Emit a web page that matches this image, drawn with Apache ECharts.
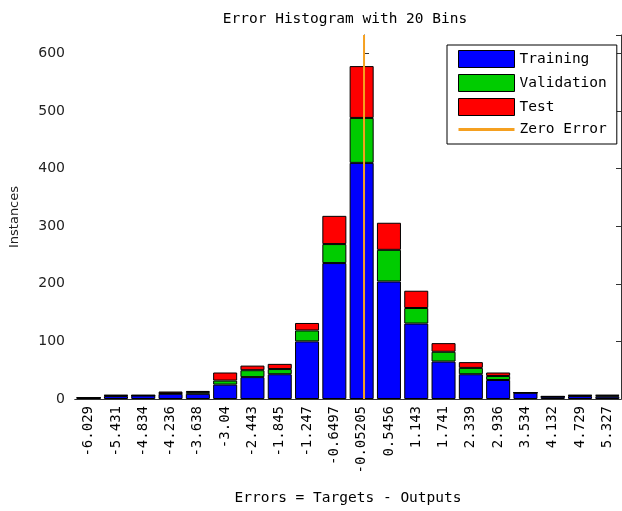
<!DOCTYPE html>
<html>
<head>
<meta charset="utf-8">
<script src="https://cdn.jsdelivr.net/npm/echarts@6/dist/echarts.min.js"></script>
<style>
  html, body { margin: 0; padding: 0; background: #fff; }
  #chart { width: 622px; height: 511px; }
</style>
</head>
<body>
<div id="chart"></div>
<script>
// bin centres (x tick labels)
var binCenters = ['-6.029', '-5.431', '-4.834', '-4.236', '-3.638', '-3.04', '-2.443', '-1.845', '-1.247', '-0.6497',
  '-0.05205', '0.5456', '1.143', '1.741', '2.339', '2.936', '3.534', '4.132', '4.729', '5.327']
// instances per bin
var training = [2, 5, 6, 9, 9, 25, 38, 43, 100, 236, 410, 204, 131, 65, 43, 33, 11, 4, 5, 4]
var validation = [0, 1, 0, 1, 3, 7, 12, 9, 19, 33, 78, 55, 27, 17, 11, 7, 0, 0, 1, 2]
var test = [0, 1, 1, 3, 2, 14, 8, 9, 13, 49, 90, 47, 30, 15, 10, 6, 0, 1, 1, 1]
var zeroError = 0
var yMax = 632

var first = parseFloat(binCenters[0])
var last = parseFloat(binCenters[binCenters.length - 1])
var binWidth = (last - first) / (binCenters.length - 1)

var mono = 'DejaVu Sans Mono'
var sans = 'DejaVu Sans'
var orange = '#f5a020'

var chart = echarts.init(document.getElementById('chart'))

var barStyle = function (color) {
  return { color: color, borderColor: '#000', borderWidth: 1 }
}

var option = {
  animation: false,
  backgroundColor: '#fff',
  title: {
    text: 'Error Histogram with 20 Bins',
    left: 345,
    top: 12,
    padding: 0,
    textAlign: 'center',
    textStyle: { fontFamily: mono, fontSize: 14.5, fontWeight: 'normal', color: '#000' }
  },
  legend: {
    orient: 'vertical',
    left: 447,
    top: 45,
    padding: [5, 10, 7, 11],
    itemGap: 6,
    itemWidth: 56,
    itemHeight: 17,
    backgroundColor: '#fff',
    borderColor: '#000',
    borderWidth: 1,
    borderRadius: 0,
    textStyle: { fontFamily: mono, fontSize: 14.5, color: '#000' },
    data: [
      { name: 'Training', icon: 'rect', itemStyle: barStyle('#0000ff') },
      { name: 'Validation', icon: 'rect', itemStyle: barStyle('#00cc00') },
      { name: 'Test', icon: 'rect', itemStyle: barStyle('#ff0000') },
      { name: 'Zero Error', icon: 'path://M0,0 H56 V3 H0 Z', itemStyle: { color: orange, borderWidth: 0 } }
    ]
  },
  grid: { left: 68, right: 1, top: 35, bottom: 98, containLabel: false },
  xAxis: [
    {
      type: 'category',
      data: binCenters,
      position: 'bottom',
      name: 'Errors = Targets - Outputs',
      nameLocation: 'middle',
      nameGap: 92,
      nameTextStyle: { fontFamily: mono, fontSize: 14.5, color: '#000' },
      axisLine: { lineStyle: { color: '#333', width: 1 } },
      axisTick: { inside: true, alignWithLabel: true, length: 5, lineStyle: { color: '#333' } },
      axisLabel: { interval: 0, rotate: 90, margin: 7, fontFamily: mono, fontSize: 14, color: '#000' },
      splitLine: { show: false }
    },
    {
      type: 'category',
      data: binCenters,
      position: 'top',
      axisLine: { lineStyle: { color: '#333', width: 1 } },
      axisTick: { inside: true, alignWithLabel: true, length: 5, lineStyle: { color: '#333' } },
      axisLabel: { show: false },
      splitLine: { show: false }
    },
    {
      type: 'value',
      show: false,
      min: first - binWidth / 2,
      max: last + binWidth / 2
    }
  ],
  yAxis: [
    {
      type: 'value',
      min: 0,
      max: yMax,
      interval: 100,
      position: 'left',
      name: 'Instances',
      nameLocation: 'middle',
      nameGap: 54,
      nameTextStyle: { fontFamily: sans, fontSize: 13, color: '#222' },
      axisLine: { show: true, lineStyle: { color: '#333', width: 1 } },
      axisTick: { show: true, inside: true, length: 5, lineStyle: { color: '#333' } },
      axisLabel: { showMaxLabel: false, margin: 10, fontFamily: sans, fontSize: 14, color: '#222' },
      splitLine: { show: false }
    },
    {
      type: 'value',
      min: 0,
      max: yMax,
      interval: 100,
      position: 'right',
      axisLine: { show: true, lineStyle: { color: '#333', width: 1 } },
      axisTick: { show: true, inside: true, length: 5, lineStyle: { color: '#333' } },
      axisLabel: { show: false },
      splitLine: { show: false }
    }
  ],
  series: [
    {
      name: 'Training',
      type: 'bar',
      stack: 'err',
      barCategoryGap: '12%',
      itemStyle: barStyle('#0000ff'),
      data: training
    },
    {
      name: 'Validation',
      type: 'bar',
      stack: 'err',
      itemStyle: barStyle('#00cc00'),
      data: validation
    },
    {
      name: 'Test',
      type: 'bar',
      stack: 'err',
      itemStyle: barStyle('#ff0000'),
      data: test
    },
    {
      name: 'Zero Error',
      type: 'line',
      xAxisIndex: 2,
      yAxisIndex: 0,
      symbol: 'none',
      z: 5,
      lineStyle: { color: orange, width: 2 },
      itemStyle: { color: orange },
      data: [[zeroError, 0], [zeroError, yMax]]
    }
  ]
}

chart.setOption(option)
</script>
</body>
</html>
